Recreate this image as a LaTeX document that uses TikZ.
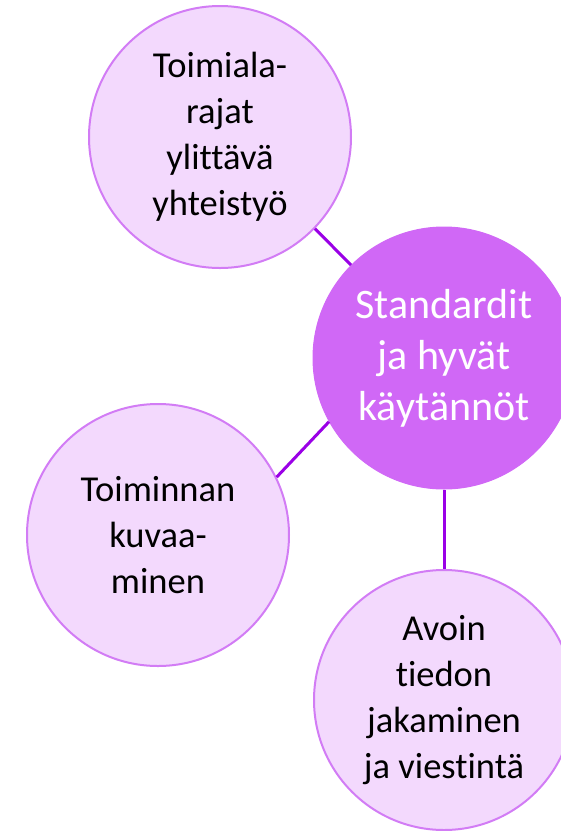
\documentclass[tikz,border=0pt]{standalone}
\usepackage{fontspec}
\setmainfont{Carlito}[Ligatures=NoCommon]
\definecolor{lightfill}{HTML}{F3D9FD}
\definecolor{lightborder}{HTML}{D27CF5}
\definecolor{mainfill}{HTML}{D068F6}
\definecolor{linkcol}{HTML}{9A00E6}
\begin{document}
\begin{tikzpicture}[x=1pt,y=-1pt,
  sat/.style={circle, fill=lightfill, draw=lightborder, line width=2pt, minimum size=262pt, inner sep=0pt, align=center, text=black, font=\fontsize{36.5}{46}\selectfont},
  hub/.style={circle, fill=mainfill, draw=mainfill, line width=1pt, minimum size=262pt, inner sep=0pt, align=center, text=white, font=\fontsize{42}{51}\selectfont},
  link/.style={draw=linkcol, line width=3pt}]
\useasboundingbox (0,0) rectangle (561,831);
\node[hub] (hub) at (444,358) {Standardit\\ja hyvät\\käytännöt};
\node[sat] (tl) at (220,137) {Toimiala-\\rajat\\ylittävä\\yhteistyö};
\node[sat] (lf) at (158,535) {Toiminnan\\kuvaa-\\minen};
\node[sat, minimum size=260pt] (br) at (444,700) {Avoin\\tiedon\\jakaminen\\ja viestintä};
\draw[link] (tl.-44) -- (hub.135);
\draw[link] (lf.26) -- (hub.209.5);
\draw[link] (hub.south) -- (br.north);
\end{tikzpicture}
\end{document}
